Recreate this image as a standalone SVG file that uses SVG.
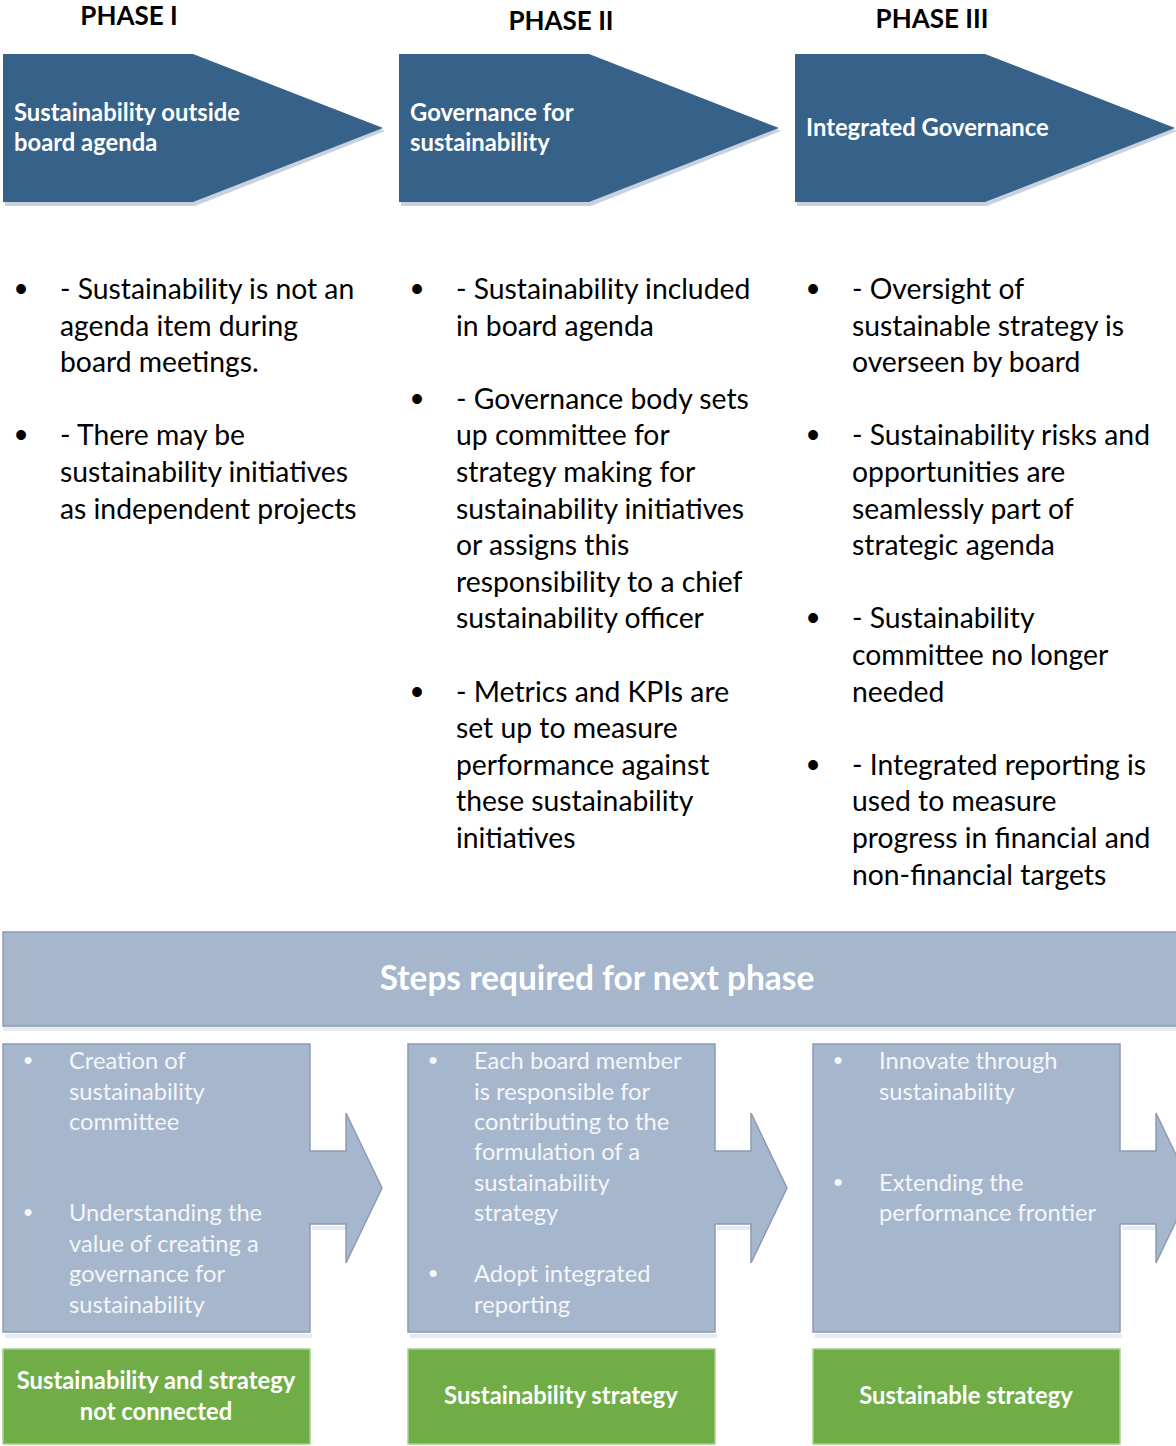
<svg xmlns="http://www.w3.org/2000/svg" width="1176" height="1446" viewBox="0 0 1176 1446">
<style>
.ph{font-family:Lato,"Open Sans",sans-serif;font-weight:bold;font-size:26px;fill:#000;text-anchor:middle}
.chev{fill:#366188}
.chevsh{fill:#c8d2df}
.ct{font-family:Lato,"Open Sans",sans-serif;font-weight:bold;font-size:23.8px;fill:#fff}
.bt{font-family:Lato,"Open Sans",sans-serif;font-size:28.3px;fill:#000}
.bl{font-family:"Liberation Sans",sans-serif;font-size:36px;fill:#000;text-anchor:middle}
.step{fill:#a6b6cd;stroke:#8c9cb2;stroke-width:1.5}
.stepsh{fill:#e6ebf2}
.st{font-family:Lato,"Open Sans",sans-serif;font-size:23.7px;fill:#f4f6f9}
.sbl{font-family:"Liberation Sans",sans-serif;font-size:26px;fill:#f4f6f9;text-anchor:middle}
.bt2{font-family:Lato,"Open Sans",sans-serif;font-weight:bold;font-size:33.4px;fill:#fff;text-anchor:middle}
.grn{fill:#70ad47;stroke:#a8cf8e;stroke-width:1.5}
.gt{font-family:Lato,"Open Sans",sans-serif;font-weight:bold;font-size:23.8px;fill:#fff;text-anchor:middle}
</style>
<g id="phase-labels">
<text class="ph" x="129" y="24.5">PHASE I</text>
<text class="ph" x="561" y="29.5">PHASE II</text>
<text class="ph" x="932" y="27.5">PHASE III</text>
</g>
<g id="phase1">
<polygon class="chevsh" points="5,58 195,58 385,131 195,206 5,206"/>
<polygon class="chev" points="3,54 193,54 383,128 193,202 3,202"/>
<text class="ct" x="14" y="121">Sustainability outside</text>
<text class="ct" x="14" y="151">board agenda</text>
</g>
<g id="phase2">
<polygon class="chevsh" points="401,58 591,58 781,131 591,206 401,206"/>
<polygon class="chev" points="399,54 589,54 779,128 589,202 399,202"/>
<text class="ct" x="410" y="121">Governance for</text>
<text class="ct" x="410" y="151">sustainability</text>
</g>
<g id="phase3">
<polygon class="chevsh" points="797,58 987,58 1177,131 987,206 797,206"/>
<polygon class="chev" points="795,54 985,54 1175,128 985,202 795,202"/>
<text class="ct" x="806" y="136">Integrated Governance</text>
</g>
<g id="col1">
<text class="bl" x="21" y="301">•</text>
<text class="bt" x="60" y="299">- Sustainability is not an</text>
<text class="bt" x="60" y="335.6">agenda item during</text>
<text class="bt" x="60" y="372.2">board meetings.</text>
<text class="bl" x="21" y="447.4">•</text>
<text class="bt" x="60" y="445.4">- There may be</text>
<text class="bt" x="60" y="482">sustainability initiatives</text>
<text class="bt" x="60" y="518.6">as independent projects</text>
</g>
<g id="col2">
<text class="bl" x="417" y="301">•</text>
<text class="bt" x="456" y="299">- Sustainability included</text>
<text class="bt" x="456" y="335.6">in board agenda</text>
<text class="bl" x="417" y="410.8">•</text>
<text class="bt" x="456" y="408.8">- Governance body sets</text>
<text class="bt" x="456" y="445.4">up committee for</text>
<text class="bt" x="456" y="482">strategy making for</text>
<text class="bt" x="456" y="518.6">sustainability initiatives</text>
<text class="bt" x="456" y="555.2">or assigns this</text>
<text class="bt" x="456" y="591.8">responsibility to a chief</text>
<text class="bt" x="456" y="628.4">sustainability officer</text>
<text class="bl" x="417" y="703.6">•</text>
<text class="bt" x="456" y="701.6">- Metrics and KPIs are</text>
<text class="bt" x="456" y="738.2">set up to measure</text>
<text class="bt" x="456" y="774.8">performance against</text>
<text class="bt" x="456" y="811.4">these sustainability</text>
<text class="bt" x="456" y="848">initiatives</text>
</g>
<g id="col3">
<text class="bl" x="813" y="301">•</text>
<text class="bt" x="852" y="299">- Oversight of</text>
<text class="bt" x="852" y="335.6">sustainable strategy is</text>
<text class="bt" x="852" y="372.2">overseen by board</text>
<text class="bl" x="813" y="447.4">•</text>
<text class="bt" x="852" y="445.4">- Sustainability risks and</text>
<text class="bt" x="852" y="482">opportunities are</text>
<text class="bt" x="852" y="518.6">seamlessly part of</text>
<text class="bt" x="852" y="555.2">strategic agenda</text>
<text class="bl" x="813" y="630.4">•</text>
<text class="bt" x="852" y="628.4">- Sustainability</text>
<text class="bt" x="852" y="665">committee no longer</text>
<text class="bt" x="852" y="701.6">needed</text>
<text class="bl" x="813" y="776.8">•</text>
<text class="bt" x="852" y="774.8">- Integrated reporting is</text>
<text class="bt" x="852" y="811.4">used to measure</text>
<text class="bt" x="852" y="848">progress in financial and</text>
<text class="bt" x="852" y="884.6">non-financial targets</text>
</g>
<g id="steps-banner">
<rect class="stepsh" x="3" y="1026" width="1180" height="5"/>
<rect class="step" x="3" y="932" width="1180" height="94"/>
<text class="bt2" x="597" y="990">Steps required for next phase</text>
</g>
<g id="step1">
<path class="stepsh" d="M5,1334 H312 V1338 H5 Z M312,1226 H348 V1230 H312 Z"/>
<path class="step" d="M3,1044 H310 V1151 H346 V1113 L382,1188 L346,1263 V1224 H310 V1332 H3 Z"/>
<text class="sbl" x="28" y="1069">•</text>
<text class="st" x="69" y="1069">Creation of</text>
<text class="st" x="69" y="1099.5">sustainability</text>
<text class="st" x="69" y="1130">committee</text>
<text class="sbl" x="28" y="1221">•</text>
<text class="st" x="69" y="1221.2">Understanding the</text>
<text class="st" x="69" y="1251.7">value of creating a</text>
<text class="st" x="69" y="1282.1">governance for</text>
<text class="st" x="69" y="1312.6">sustainability</text>
</g>
<g id="step2">
<path class="stepsh" d="M410,1334 H717 V1338 H410 Z M717,1226 H753 V1230 H717 Z"/>
<path class="step" d="M408,1044 H715 V1151 H751 V1113 L787,1188 L751,1263 V1224 H715 V1332 H408 Z"/>
<text class="sbl" x="433" y="1069">•</text>
<text class="st" x="474" y="1069">Each board member</text>
<text class="st" x="474" y="1099.5">is responsible for</text>
<text class="st" x="474" y="1130">contributing to the</text>
<text class="st" x="474" y="1160.4">formulation of a</text>
<text class="st" x="474" y="1190.8">sustainability</text>
<text class="st" x="474" y="1221.2">strategy</text>
<text class="sbl" x="433" y="1282">•</text>
<text class="st" x="474" y="1282.1">Adopt integrated</text>
<text class="st" x="474" y="1312.6">reporting</text>
</g>
<g id="step3">
<path class="stepsh" d="M815,1334 H1122 V1338 H815 Z M1122,1226 H1158 V1230 H1122 Z"/>
<path class="step" d="M813,1044 H1120 V1151 H1156 V1113 L1192,1188 L1156,1263 V1224 H1120 V1332 H813 Z"/>
<text class="sbl" x="838" y="1069">•</text>
<text class="st" x="879" y="1069">Innovate through</text>
<text class="st" x="879" y="1099.5">sustainability</text>
<text class="sbl" x="838" y="1191">•</text>
<text class="st" x="879" y="1190.8">Extending the</text>
<text class="st" x="879" y="1221.2">performance frontier</text>
</g>
<g id="outcome1">
<rect class="grn" x="3" y="1349" width="307" height="95"/>
<text class="gt" x="156" y="1389">Sustainability and strategy</text>
<text class="gt" x="156" y="1420">not connected</text>
</g>
<g id="outcome2">
<rect class="grn" x="408" y="1349" width="307" height="95"/>
<text class="gt" x="561" y="1404">Sustainability strategy</text>
</g>
<g id="outcome3">
<rect class="grn" x="813" y="1349" width="307" height="95"/>
<text class="gt" x="966" y="1404">Sustainable strategy</text>
</g>
<g id="connectors"></g>
</svg>
